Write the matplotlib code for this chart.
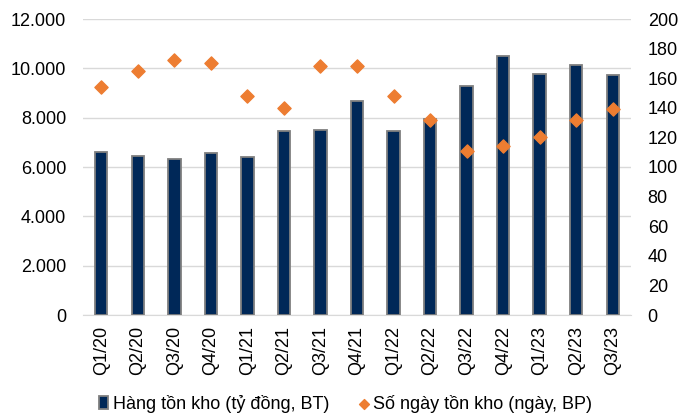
import matplotlib
matplotlib.use("Agg")
import matplotlib.pyplot as plt
from matplotlib.ticker import FuncFormatter, MultipleLocator

plt.rcParams['font.family'] = ['Liberation Sans', 'DejaVu Sans']

categories = ["Q1/20", "Q2/20", "Q3/20", "Q4/20", "Q1/21", "Q2/21", "Q3/21", "Q4/21",
              "Q1/22", "Q2/22", "Q3/22", "Q4/22", "Q1/23", "Q2/23", "Q3/23"]
inventory = [6600, 6450, 6320, 6550, 6390, 7460, 7500, 8690,
             7460, 7960, 9300, 10510, 9770, 10120, 9720]
days = [154, 165, 172, 170, 148, 140, 168, 168,
        148, 132, 111, 114, 120, 132, 139]

bar_color = "#002858"
dot_color = "#ED7D31"

fig = plt.figure(figsize=(6.96, 4.16), dpi=100)
ax = fig.add_axes([83/696, 1-315/416, (631-83)/696, (315-19)/416])
x = list(range(len(categories)))
ax.bar(x, inventory, width=0.34, color=bar_color, edgecolor="#7f7f7f", linewidth=1.3,
       label="Hàng tồn kho (tỷ đồng, BT)", zorder=3)
ax.set_xlim(-0.5, len(categories) - 0.5)
ax.set_ylim(0, 12000)
ax.yaxis.set_major_locator(MultipleLocator(2000))
ax.yaxis.set_major_formatter(FuncFormatter(lambda v, p: f"{int(v):,}".replace(",", ".")))
ax.grid(axis="y", color="#d9d9d9", linewidth=1, zorder=0)
ax.set_axisbelow(True)
for s in ["top", "right", "left"]:
    ax.spines[s].set_visible(False)
ax.spines["bottom"].set_color("#d9d9d9")
ax.set_xticks(x)
ax.set_xticklabels(categories, rotation=90)
ax.tick_params(axis="both", length=0, labelsize=13, colors="#000000")
ax.tick_params(axis="y", pad=12)
ax.tick_params(axis="x", pad=8)

ax2 = ax.twinx()
ax2.scatter(x, days, marker="D", s=45, color=dot_color, zorder=4,
            label="Số ngày tồn kho (ngày, BP)")
ax2.set_ylim(0, 200)
ax2.yaxis.set_major_locator(MultipleLocator(20))
for s in ["top", "right", "left", "bottom"]:
    ax2.spines[s].set_visible(False)
ax2.tick_params(axis="y", length=0, labelsize=13, pad=12)

h1, l1 = ax.get_legend_handles_labels()
h2, l2 = ax2.get_legend_handles_labels()
fig.legend(h1 + h2, l1 + l2, loc="lower center", bbox_to_anchor=(0.497, -0.032), ncol=2,
           frameon=False, fontsize=13, handlelength=0.5, handletextpad=0.25,
           columnspacing=1.7, markerscale=0.75)

fig.savefig("out.png", dpi=100)
